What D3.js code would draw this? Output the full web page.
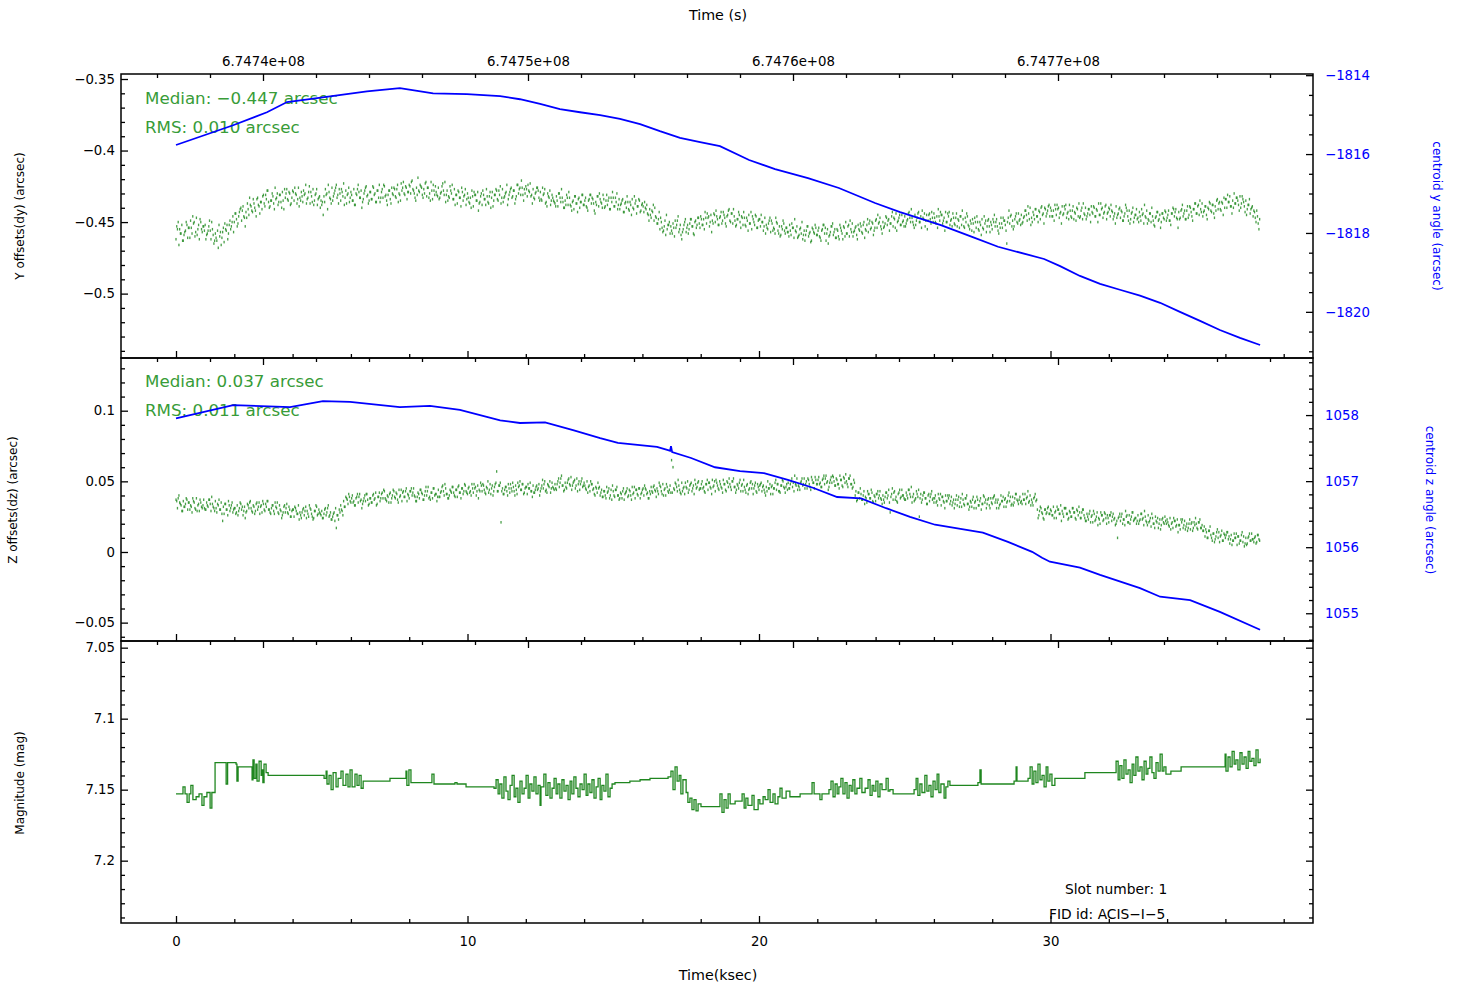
<!DOCTYPE html>
<html><head><meta charset="utf-8">
<script src="https://cdn.jsdelivr.net/npm/d3@7"></script>
<style>body{margin:0;background:#fff}svg{display:block}text{font-family:"DejaVu Sans",sans-serif}</style>
</head><body><svg id="c" width="1465" height="987"></svg>
<script>
// ---------------- DATA ----------------
const sampleStep = 0.05;   // ksec between centroid samples
const sampleOffsetB = 0.025; // second interleaved sample set offset (ksec)
// Y offsets (milli-arcsec), set A
const dyMas = [
-462,-455,-466,-458,-452,-463,-457,-450,-461,-454,-449,-458,-451,-460,-447,-455,-462,-450,-457,-453,
-452,-459,-456,-449,-462,-455,-465,-458,-463,-468,-460,-466,-457,-464,-455,-452,-458,-449,-453,-446,
-450,-444,-453,-446,-441,-449,-439,-447,-443,-437,-445,-438,-442,-434,-440,-446,-433,-439,-436,-441,
-431,-439,-434,-428,-440,-435,-430,-437,-426,-433,-438,-431,-436,-429,-441,-433,-427,-435,-430,-437,
-428,-435,-430,-437,-426,-433,-429,-436,-431,-424,-434,-429,-437,-432,-427,-435,-430,-438,-433,-440,
-438,-445,-436,-431,-441,-429,-434,-426,-432,-428,-424,-431,-427,-435,-429,-423,-433,-437,-430,-436,
-429,-435,-427,-438,-431,-424,-433,-428,-436,-430,-426,-432,-437,-429,-434,-425,-431,-436,-428,-433,
-436,-429,-433,-425,-431,-438,-428,-434,-426,-431,-427,-433,-424,-430,-435,-428,-422,-431,-426,-429,
-424,-430,-421,-428,-433,-426,-419,-429,-425,-431,-427,-423,-432,-426,-430,-422,-434,-428,-425,-431,
-426,-433,-429,-423,-431,-436,-428,-432,-425,-430,-434,-427,-431,-437,-429,-433,-426,-435,-431,-438,
-430,-436,-433,-428,-439,-431,-435,-429,-437,-432,-438,-431,-434,-427,-436,-432,-440,-429,-435,-431,
-428,-435,-431,-437,-427,-433,-430,-424,-434,-429,-426,-432,-428,-434,-424,-430,-426,-421,-431,-427,
-425,-432,-428,-423,-431,-427,-434,-429,-426,-433,-429,-435,-431,-427,-436,-430,-433,-438,-431,-435,
-437,-432,-439,-430,-436,-433,-440,-435,-431,-438,-433,-439,-436,-441,-432,-437,-434,-440,-436,-431,
-438,-433,-440,-435,-431,-437,-434,-442,-436,-432,-439,-434,-437,-431,-440,-435,-438,-433,-441,-436,
-433,-439,-436,-441,-434,-438,-435,-443,-437,-440,-436,-442,-438,-434,-441,-437,-444,-439,-435,-442,
-437,-443,-440,-438,-445,-441,-447,-443,-449,-446,-451,-448,-455,-450,-457,-453,-459,-455,-452,-458,
-456,-451,-460,-454,-449,-457,-452,-462,-455,-450,-457,-452,-455,-448,-453,-458,-450,-454,-447,-451,
-446,-452,-448,-443,-451,-447,-453,-445,-449,-444,-450,-446,-452,-447,-443,-449,-445,-451,-446,-442,
-449,-444,-451,-446,-453,-448,-443,-450,-446,-452,-447,-453,-449,-445,-451,-455,-448,-452,-446,-454,
-448,-453,-450,-456,-447,-452,-455,-449,-457,-451,-454,-458,-450,-456,-453,-459,-455,-451,-458,-454,
-457,-452,-459,-454,-461,-456,-453,-460,-455,-458,-462,-456,-459,-453,-460,-457,-463,-455,-458,-454,
-459,-454,-461,-456,-452,-458,-463,-455,-460,-457,-453,-459,-455,-461,-456,-462,-454,-458,-453,-460,
-458,-453,-460,-455,-451,-457,-454,-459,-452,-456,-453,-458,-450,-455,-452,-457,-449,-454,-451,-456,
-449,-454,-451,-447,-455,-450,-453,-446,-452,-448,-451,-446,-453,-448,-444,-450,-447,-452,-445,-449,
-446,-451,-448,-443,-450,-447,-452,-445,-449,-444,-450,-446,-442,-448,-453,-445,-449,-444,-451,-447,
-444,-450,-446,-441,-449,-445,-451,-447,-443,-450,-446,-452,-448,-444,-451,-447,-453,-449,-446,-452,
-448,-454,-450,-446,-453,-449,-456,-451,-447,-454,-450,-456,-452,-448,-455,-451,-457,-449,-453,-450,
-455,-450,-453,-448,-456,-451,-447,-454,-449,-452,-465,-447,-451,-445,-449,-453,-446,-450,-444,-448,
-445,-450,-446,-442,-449,-444,-440,-447,-443,-448,-441,-446,-442,-448,-439,-444,-440,-446,-442,-438,
-440,-446,-442,-438,-445,-441,-447,-443,-439,-444,-441,-447,-443,-438,-446,-442,-448,-444,-440,-446,
-447,-442,-448,-444,-440,-446,-441,-445,-439,-444,-440,-446,-442,-437,-445,-441,-447,-443,-438,-444,
-440,-446,-442,-448,-444,-439,-445,-441,-447,-443,-449,-444,-440,-446,-442,-448,-443,-450,-445,-441,
-447,-443,-449,-445,-451,-446,-442,-448,-444,-450,-446,-452,-447,-443,-449,-445,-450,-444,-448,-443,
-447,-442,-449,-444,-440,-446,-441,-448,-443,-447,-441,-446,-442,-448,-439,-445,-440,-446,-441,-437,
-444,-439,-445,-441,-437,-443,-439,-445,-440,-436,-442,-438,-444,-439,-435,-441,-436,-442,-437,-433,
-434,-440,-436,-432,-439,-435,-430,-437,-433,-438,-432,-437,-434,-439,-435,-441,-438,-444,-440,-446,
-443,-450,-446,-455];
// Y offsets (milli-arcsec), set B (interleaved)
const dyMasB = [
-453,-450,-455,-458,-463,-459,-456,-452,-454,-461,-454,-446,-450,-457,-459,-452,-448,-455,-453,-456,
-462,-458,-453,-456,-450,-459,-463,-461,-456,-452,-457,-461,-454,-451,-456,-462,-452,-455,-450,-457,
-444,-448,-451,-443,-440,-442,-446,-453,-447,-441,-433,-439,-443,-437,-442,-434,-438,-444,-436,-432,
-437,-431,-428,-436,-439,-435,-432,-441,-434,-430,-436,-431,-440,-435,-427,-430,-434,-429,-438,-433,
-429,-426,-431,-434,-439,-435,-432,-428,-430,-437,-433,-425,-429,-436,-438,-431,-427,-434,-432,-435,
-436,-432,-427,-430,-424,-433,-437,-435,-430,-426,-433,-437,-430,-427,-432,-438,-428,-431,-426,-433,
-431,-435,-438,-430,-427,-429,-433,-440,-434,-428,-425,-431,-435,-429,-434,-426,-430,-436,-428,-424,
-433,-427,-424,-432,-435,-431,-428,-437,-430,-426,-432,-427,-436,-431,-423,-426,-430,-425,-434,-429,
-425,-422,-427,-430,-435,-431,-428,-424,-426,-433,-430,-422,-426,-433,-435,-428,-424,-431,-429,-432,
-434,-430,-425,-428,-422,-431,-435,-433,-428,-424,-434,-438,-431,-428,-433,-439,-429,-432,-427,-434,
-433,-437,-440,-432,-429,-431,-435,-442,-436,-430,-428,-434,-438,-432,-437,-429,-433,-439,-431,-427,
-434,-428,-425,-433,-436,-432,-429,-438,-431,-427,-433,-428,-437,-432,-424,-427,-431,-426,-435,-430,
-427,-424,-429,-432,-437,-433,-430,-426,-428,-435,-434,-426,-430,-437,-439,-432,-428,-435,-433,-436,
-439,-435,-430,-433,-427,-436,-440,-438,-433,-429,-438,-442,-435,-432,-437,-443,-433,-436,-431,-438,
-435,-439,-442,-434,-431,-433,-437,-444,-438,-432,-430,-436,-440,-434,-439,-431,-435,-441,-433,-429,
-439,-433,-430,-438,-441,-437,-434,-443,-436,-432,-441,-436,-445,-440,-432,-435,-439,-434,-443,-438,
-439,-436,-441,-444,-449,-445,-442,-438,-440,-447,-451,-443,-447,-454,-456,-449,-445,-452,-450,-453,
-458,-454,-449,-452,-446,-455,-459,-457,-452,-448,-454,-458,-451,-448,-453,-459,-449,-452,-447,-454,
-448,-452,-455,-447,-444,-446,-450,-457,-451,-445,-442,-448,-452,-446,-451,-443,-447,-453,-445,-441,
-450,-444,-441,-449,-452,-448,-445,-454,-447,-443,-452,-447,-456,-451,-443,-446,-450,-445,-454,-449,
-448,-445,-450,-453,-458,-454,-451,-447,-449,-456,-455,-447,-451,-458,-460,-453,-449,-456,-454,-457,
-460,-456,-451,-454,-448,-457,-461,-459,-454,-450,-459,-463,-456,-453,-458,-464,-454,-457,-452,-459,
-456,-460,-463,-455,-452,-454,-458,-465,-459,-453,-451,-457,-461,-455,-460,-452,-456,-462,-454,-450,
-458,-452,-449,-457,-460,-456,-453,-462,-455,-451,-457,-452,-461,-456,-448,-451,-455,-450,-459,-454,
-448,-445,-450,-453,-458,-454,-451,-447,-449,-456,-451,-443,-447,-454,-456,-449,-445,-452,-450,-453,
-453,-449,-444,-447,-441,-450,-454,-452,-447,-443,-450,-454,-447,-444,-449,-455,-445,-448,-443,-450,
-447,-451,-454,-446,-443,-445,-449,-456,-450,-444,-443,-449,-453,-447,-452,-444,-448,-454,-446,-442,
-453,-447,-444,-452,-455,-451,-448,-457,-450,-446,-455,-450,-459,-454,-446,-449,-453,-448,-457,-452,
-448,-445,-450,-453,-458,-454,-451,-447,-449,-456,-450,-442,-446,-453,-455,-448,-444,-451,-449,-452,
-451,-447,-442,-445,-439,-448,-452,-450,-445,-441,-446,-450,-443,-440,-445,-451,-441,-444,-439,-446,
-442,-446,-449,-441,-438,-440,-444,-451,-445,-439,-438,-444,-448,-442,-447,-439,-443,-449,-441,-437,
-446,-440,-437,-445,-448,-444,-441,-450,-443,-439,-446,-441,-450,-445,-437,-440,-444,-439,-448,-443,
-441,-438,-443,-446,-451,-447,-444,-440,-442,-449,-446,-438,-442,-449,-451,-444,-440,-447,-445,-448,
-450,-446,-441,-444,-438,-447,-451,-449,-444,-440,-449,-453,-446,-443,-448,-454,-444,-447,-442,-449,
-445,-449,-452,-444,-441,-443,-447,-454,-448,-442,-438,-444,-448,-442,-447,-439,-443,-449,-441,-437,
-444,-438,-435,-443,-446,-442,-439,-448,-441,-437,-443,-438,-447,-442,-434,-437,-441,-436,-445,-440,
-434,-431,-436,-439,-444,-440,-437,-433,-435,-442,-440,-432,-436,-443,-445,-438,-434,-441,-439,-442,
-447,-442,-451,-448];
// Z offsets (milli-arcsec), set A
const dzMas = [
37,31,40,34,29,36,32,38,30,35,33,28,36,31,38,33,29,35,31,37,
30,35,32,37,29,34,31,36,28,33,30,35,22,27,34,30,36,29,33,28,
31,27,33,29,35,30,26,32,28,34,31,36,29,33,27,34,30,35,32,28,
34,29,32,36,30,27,33,29,35,31,28,33,29,26,32,28,34,27,30,25,
30,25,31,27,33,28,24,30,26,32,29,25,31,27,23,29,33,26,30,27,
29,24,30,26,31,25,28,23,27,22,17,26,30,33,29,36,32,38,34,39,
35,40,36,33,39,35,41,37,34,38,36,41,33,38,35,40,37,42,34,39,
36,41,38,43,37,40,35,42,38,44,39,42,37,44,40,36,43,39,45,41,
38,43,40,45,39,36,42,38,44,41,37,43,40,46,39,42,38,45,41,36,
44,39,43,47,40,45,41,38,44,42,46,40,44,39,47,42,45,41,48,43,
41,46,43,48,42,45,40,47,44,49,43,47,42,46,50,44,41,47,43,48,
57,43,47,21,45,41,46,43,48,42,45,49,43,47,41,46,50,44,48,42,
46,41,45,49,43,47,42,46,44,48,43,47,45,50,44,48,46,42,49,45,
48,44,50,46,52,47,43,49,45,51,48,53,47,50,45,52,48,44,50,46,
49,45,50,46,43,48,44,41,46,42,45,40,44,39,43,38,42,45,40,37,
43,39,44,40,37,42,38,45,41,43,39,44,40,46,42,38,44,40,45,41,
44,40,45,41,38,43,46,42,47,43,45,41,47,43,48,44,40,46,42,47,
65,60,44,48,43,47,42,49,45,41,46,50,44,48,43,47,51,45,49,44,
45,50,46,42,48,44,49,45,51,47,43,49,45,50,46,42,48,44,50,46,
48,44,50,46,42,48,45,51,47,43,46,42,48,44,49,45,41,47,43,48,
44,48,43,47,42,46,50,45,41,47,45,49,44,48,43,47,51,46,42,48,
49,45,50,46,43,48,52,47,44,50,47,52,48,45,51,46,53,49,45,51,
48,53,49,46,52,48,54,50,46,51,49,53,47,52,48,45,51,47,53,49,
50,46,52,48,45,51,40,36,42,38,41,37,43,39,35,41,38,44,36,40,
36,41,38,43,37,40,35,42,38,44,28,41,37,43,39,35,42,38,44,40,
37,42,38,44,39,35,41,37,43,39,25,41,37,42,38,34,40,36,41,37,
35,40,36,41,37,33,39,35,40,36,38,34,39,35,31,37,33,39,35,32,
37,33,38,34,30,36,32,39,35,31,37,33,38,34,40,35,31,37,33,38,
34,39,35,31,37,33,40,36,32,38,35,40,36,33,39,35,41,37,34,39,
36,41,37,34,39,35,40,37,33,39,36,30,26,32,28,24,30,27,31,27,
30,26,32,28,24,30,27,33,29,25,31,27,23,29,25,31,28,24,30,26,
28,24,30,26,22,27,23,29,25,21,27,23,28,24,20,26,22,28,24,26,
21,26,22,27,24,20,10,25,22,27,23,19,25,21,26,23,28,22,24,20,
26,22,27,23,19,25,21,26,22,18,24,20,25,21,17,23,19,24,20,22,
23,19,24,20,17,22,18,23,19,16,21,17,22,18,15,20,16,21,17,19,
20,16,21,17,19,15,11,14,10,15,12,8,13,9,14,10,7,12,8,13,
10,14,9,6,12,8,13,10,5,11,8,12,7,4,10,6,11,8,13,9,
10,6,12,9];
// Z offsets (milli-arcsec), set B (interleaved)
const dzMasB = [
36,38,35,33,29,32,34,37,35,30,32,38,35,30,29,34,37,32,33,31,
30,33,37,34,39,32,29,31,34,37,30,27,32,34,30,26,33,31,35,30,
31,28,26,31,34,32,29,24,29,33,35,31,28,32,29,35,32,27,33,36,
30,34,36,30,28,31,33,27,32,35,27,30,24,28,33,31,28,32,25,29,
30,32,29,27,23,26,28,31,29,24,27,33,30,25,24,29,32,27,28,26,
24,27,31,28,33,26,23,25,28,31,26,23,28,30,26,32,39,37,41,36,
38,35,33,38,41,39,36,31,36,40,41,37,34,38,35,41,38,33,39,42,
38,42,44,38,36,39,41,35,40,43,38,41,35,39,44,42,39,43,36,40,
43,45,42,40,36,39,41,44,42,37,40,46,43,38,37,42,45,40,41,39,
39,42,46,43,48,41,38,40,43,46,42,39,44,46,42,38,45,43,47,42,
45,42,40,45,48,46,43,38,43,47,48,44,41,45,42,48,45,40,46,49,
43,47,49,43,41,44,46,40,45,48,43,46,40,44,49,47,44,48,41,45,
46,48,45,43,39,42,44,47,45,40,45,51,48,43,42,47,50,45,46,44,
45,48,52,49,54,47,44,46,49,52,47,44,49,51,47,43,50,48,52,47,
47,44,42,47,50,48,45,40,45,49,46,42,39,43,40,46,43,38,44,47,
40,44,46,40,38,41,43,37,42,45,40,43,37,41,46,44,41,45,38,42,
45,47,44,42,38,41,43,46,44,39,43,49,46,41,40,45,48,43,44,42,
42,45,49,46,51,44,41,43,46,49,45,42,47,49,45,41,48,46,50,45,
48,45,43,48,51,49,46,41,46,50,51,47,44,48,45,51,48,43,49,52,
46,50,52,46,44,47,49,43,48,51,44,47,41,45,50,48,45,49,42,46,
47,49,46,44,40,43,45,48,46,41,45,51,48,43,42,47,50,45,46,44,
45,48,52,49,54,47,44,46,49,52,48,45,50,52,48,44,51,49,53,48,
51,48,46,51,54,52,49,44,49,53,54,50,47,51,48,54,51,46,52,55,
48,52,54,48,46,49,43,37,42,45,37,40,34,38,43,41,38,42,35,39,
41,43,40,38,34,37,39,42,40,35,39,45,42,37,36,41,44,39,40,38,
37,40,44,41,46,39,36,38,41,44,38,35,40,42,38,34,41,39,43,38,
38,35,33,38,41,39,36,31,36,40,40,36,33,37,34,40,37,32,38,41,
34,38,40,34,32,35,37,31,36,39,33,36,30,34,39,37,34,38,31,35,
38,40,37,35,31,34,36,39,37,32,36,42,39,34,33,38,41,36,37,35,
34,37,41,38,43,36,33,35,38,41,37,24,29,31,27,23,30,28,32,27,
29,26,24,29,32,30,27,22,27,31,31,27,24,28,25,31,28,23,29,32,
24,28,30,24,22,25,27,21,26,29,22,25,19,23,28,26,23,27,20,24,
26,28,25,23,19,22,24,27,25,20,23,29,26,21,20,25,28,23,24,22,
20,23,27,24,29,22,19,21,24,27,20,17,22,24,20,16,23,21,25,20,
21,18,16,21,24,22,19,14,19,23,23,19,16,20,17,23,20,15,21,24,
17,21,23,17,15,18,16,10,15,18,10,13,7,11,16,14,11,15,8,12,
12,14,11,9,5,8,10,13,11,6,8,14,11,6,5,10,13,8,9,7,
11,7,12,8];
// centroid y angle (arcsec)
const yAngT = [0,1.96,3.12,3.81,4.84,6.55,7.68,8.82,9.98,11.12,11.80,12.49,13.17,13.86,14.55,15.23,15.92,16.60,17.29,17.98,18.66,19.66,20.55,21.68,22.74,23.98,24.84,26.24,27.31,28.20,29.78,30.33,31.01,31.70,32.38,33.07,33.76,34.44,35.13,35.81,36.50,37.19];
const yAngV = [-1815.77,-1815.27,-1814.94,-1814.68,-1814.58,-1814.41,-1814.33,-1814.46,-1814.48,-1814.53,-1814.61,-1814.73,-1814.86,-1814.94,-1815.01,-1815.11,-1815.24,-1815.42,-1815.59,-1815.70,-1815.80,-1816.15,-1816.38,-1816.61,-1816.86,-1817.24,-1817.47,-1817.80,-1818.10,-1818.35,-1818.66,-1818.84,-1819.09,-1819.29,-1819.44,-1819.59,-1819.77,-1820.00,-1820.23,-1820.46,-1820.66,-1820.84];
// centroid z angle (arcsec)
const zAngT = [0,1.96,3.91,5.04,5.97,7.68,8.71,9.74,11.12,11.80,12.66,13.65,14.55,15.16,16.50,16.88,16.95,16.98,17.02,17.67,18.49,19.35,20.17,20.99,21.85,22.68,23.50,24.36,25.18,26.04,26.86,27.68,28.54,29.37,29.71,29.98,31.01,31.70,33.07,33.76,34.79,35.81,37.19];
const zAngV = [1057.95,1058.15,1058.12,1058.21,1058.20,1058.12,1058.14,1058.08,1057.92,1057.88,1057.89,1057.77,1057.65,1057.58,1057.52,1057.47,1057.46,1057.53,1057.44,1057.35,1057.21,1057.15,1057.12,1057.02,1056.90,1056.76,1056.74,1056.59,1056.46,1056.34,1056.28,1056.22,1056.08,1055.93,1055.84,1055.78,1055.69,1055.58,1055.38,1055.25,1055.20,1055.02,1054.75];
// magnitude steps [ksec, mag]
const magSteps = [
[0.00,7.153],[0.24,7.148],[0.31,7.153],[0.38,7.159],[0.45,7.153],[0.51,7.147],[0.58,7.157],[0.69,7.155],[0.79,7.153],[0.89,7.161],
[0.96,7.155],[1.06,7.152],[1.17,7.163],[1.23,7.152],[1.34,7.131],[1.72,7.146],[1.77,7.131],[2.06,7.132],[2.09,7.144],[2.13,7.134],
[2.61,7.143],[2.64,7.129],[2.68,7.142],[2.74,7.132],[2.78,7.144],[2.85,7.130],[2.92,7.140],[2.95,7.136],[2.98,7.145],[3.02,7.132],
[3.09,7.138],[3.16,7.140],[5.08,7.142],[5.15,7.137],[5.18,7.146],[5.25,7.140],[5.32,7.150],[5.39,7.138],[5.49,7.148],[5.56,7.142],
[5.66,7.137],[5.73,7.147],[5.83,7.139],[5.90,7.148],[5.97,7.136],[6.04,7.148],[6.14,7.139],[6.21,7.147],[6.28,7.140],[6.35,7.149],
[6.42,7.144],[7.34,7.142],[7.89,7.137],[7.92,7.147],[7.99,7.136],[8.06,7.145],[8.78,7.139],[8.85,7.146],[9.57,7.145],[9.64,7.146],
[9.95,7.148],[10.91,7.149],[10.98,7.143],[11.05,7.153],[11.11,7.146],[11.18,7.156],[11.25,7.141],[11.32,7.151],[11.39,7.157],[11.46,7.147],
[11.53,7.140],[11.60,7.155],[11.66,7.149],[11.73,7.159],[11.80,7.144],[11.87,7.153],[11.94,7.149],[12.01,7.140],[12.08,7.156],[12.14,7.146],
[12.21,7.151],[12.28,7.141],[12.35,7.153],[12.42,7.147],[12.49,7.161],[12.52,7.148],[12.62,7.139],[12.69,7.154],[12.76,7.145],[12.83,7.156],
[12.90,7.149],[12.97,7.142],[13.04,7.153],[13.10,7.146],[13.17,7.156],[13.24,7.143],[13.31,7.151],[13.38,7.147],[13.45,7.157],[13.52,7.144],
[13.58,7.153],[13.65,7.141],[13.72,7.149],[13.79,7.155],[13.86,7.146],[13.93,7.150],[14.00,7.139],[14.07,7.154],[14.13,7.146],[14.20,7.152],
[14.27,7.143],[14.34,7.156],[14.41,7.148],[14.48,7.142],[14.55,7.157],[14.61,7.147],[14.68,7.151],[14.75,7.139],[14.82,7.155],[14.89,7.149],
[14.96,7.146],[15.06,7.145],[15.57,7.144],[15.92,7.143],[16.26,7.142],[16.88,7.141],[16.98,7.137],[17.05,7.150],[17.12,7.134],[17.19,7.144],
[17.26,7.140],[17.32,7.153],[17.39,7.143],[17.50,7.152],[17.56,7.159],[17.63,7.156],[17.70,7.164],[17.77,7.157],[17.84,7.165],[17.91,7.160],
[18.01,7.162],[18.66,7.153],[18.73,7.166],[18.80,7.157],[18.87,7.163],[18.94,7.153],[19.01,7.160],[19.18,7.158],[19.42,7.153],[19.49,7.163],
[19.55,7.156],[19.62,7.161],[19.76,7.154],[19.83,7.164],[19.97,7.157],[20.03,7.160],[20.14,7.155],[20.21,7.157],[20.31,7.150],[20.38,7.159],
[20.48,7.153],[20.55,7.160],[20.65,7.155],[20.72,7.149],[20.79,7.156],[20.93,7.151],[21.06,7.155],[21.41,7.153],[21.82,7.145],[21.89,7.153],
[22.09,7.157],[22.16,7.153],[22.40,7.150],[22.47,7.144],[22.54,7.155],[22.61,7.146],[22.68,7.153],[22.74,7.148],[22.81,7.142],[22.88,7.153],
[22.95,7.145],[23.02,7.156],[23.09,7.147],[23.16,7.151],[23.22,7.143],[23.29,7.153],[23.36,7.149],[23.46,7.142],[23.53,7.152],[23.64,7.149],
[23.74,7.143],[23.81,7.154],[23.88,7.147],[23.94,7.151],[24.01,7.144],[24.08,7.155],[24.15,7.146],[24.22,7.150],[24.36,7.142],[24.43,7.151],
[24.49,7.150],[24.60,7.153],[25.32,7.150],[25.39,7.142],[25.45,7.154],[25.52,7.146],[25.59,7.152],[25.69,7.140],[25.76,7.151],[25.83,7.147],
[25.90,7.155],[25.97,7.144],[26.04,7.150],[26.11,7.139],[26.17,7.152],[26.24,7.146],[26.35,7.156],[26.41,7.148],[26.48,7.144],[26.55,7.147],
[27.51,7.145],[27.58,7.136],[27.62,7.146],[28.75,7.144],[28.82,7.134],[28.85,7.144],[29.23,7.142],[29.30,7.134],[29.37,7.146],[29.43,7.137],
[29.50,7.145],[29.57,7.132],[29.64,7.143],[29.71,7.140],[29.78,7.148],[29.85,7.134],[29.91,7.144],[29.98,7.139],[30.05,7.147],[30.15,7.142],
[31.18,7.138],[32.25,7.130],[32.32,7.143],[32.38,7.133],[32.45,7.142],[32.52,7.129],[32.59,7.139],[32.66,7.136],[32.73,7.145],[32.80,7.132],
[32.86,7.140],[32.93,7.127],[33.00,7.137],[33.07,7.134],[33.14,7.143],[33.21,7.130],[33.28,7.139],[33.34,7.135],[33.41,7.127],[33.48,7.138],
[33.55,7.142],[33.62,7.131],[33.69,7.137],[33.76,7.125],[33.83,7.137],[33.89,7.134],[33.96,7.139],[34.13,7.137],[34.48,7.134],[35.99,7.125],
[36.02,7.137],[36.09,7.127],[36.16,7.134],[36.23,7.123],[36.30,7.132],[36.36,7.129],[36.43,7.136],[36.50,7.124],[36.57,7.132],[36.64,7.127],
[36.71,7.135],[36.78,7.123],[36.84,7.130],[36.91,7.128],[36.98,7.133],[37.05,7.122],[37.12,7.131],[37.19,7.128]];

// ticks
const secTicks = [674740000, 674750000, 674760000, 674770000];
const secTickLabels = ["6.7474e+08","6.7475e+08","6.7476e+08","6.7477e+08"];
const ksecTicks = [0, 10, 20, 30];
const ksecTickLabels = ["0","10","20","30"];
const dyTicks = [-0.5, -0.45, -0.4, -0.35];
const dyTickLabels = ["\u22120.5","\u22120.45","\u22120.4","\u22120.35"];
const yaTicks = [-1820, -1818, -1816, -1814];
const yaTickLabels = ["\u22121820","\u22121818","\u22121816","\u22121814"];
const dzTicks = [-0.05, 0, 0.05, 0.1];
const dzTickLabels = ["\u22120.05","0","0.05","0.1"];
const zaTicks = [1055, 1056, 1057, 1058];
const zaTickLabels = ["1055","1056","1057","1058"];
const magTicks = [7.05, 7.1, 7.15, 7.2];
const magTickLabels = ["7.05","7.1","7.15","7.2"];
const statsY = ["Median: \u22120.447 arcsec", "RMS: 0.010 arcsec"];
const statsZ = ["Median: 0.037 arcsec", "RMS: 0.011 arcsec"];
const infoText = ["Slot number: 1", "FID id: ACIS\u2212I\u22125"];

// ---------------- LAYOUT ----------------
const svg = d3.select("#c");
const L = 121, R = 1313;
const T1 = 74, B1 = 358, T2 = 358, B2 = 641, T3 = 641, B3 = 923;
const GREEN = "#228b22", TXTG = "#389c38", BLUE = "#0000ff";
const FONT = "DejaVu Sans";
const TICKFS = 13.3;

const x = d3.scaleLinear().domain([-1.887, 39.005]).range([L, R]);
const xs = d3.scaleLinear().domain([674734641.5, 674779622.6]).range([L, R]);
const yDy = d3.scaleLinear().domain([-0.545, -0.3465]).range([B1, T1]);
const yYa = d3.scaleLinear().domain([-1821.17, -1813.97]).range([B1, T1]);
const yDz = d3.scaleLinear().domain([-0.063, 0.1373]).range([B2, T2]);
const yZa = d3.scaleLinear().domain([1054.58, 1058.864]).range([B2, T2]);
const yMag = d3.scaleLinear().domain([7.0453, 7.2439]).range([T3, B3]);

function drawAxis(orient, scale, pos, major, minorStep, labels, color, pad) {
  const mk = {left: d3.axisLeft, right: d3.axisRight, top: d3.axisTop, bottom: d3.axisBottom}[orient];
  const tr = (orient === "left" || orient === "right") ? `translate(${pos},0)` : `translate(0,${pos})`;
  const d = scale.domain(), lo = Math.min(...d), hi = Math.max(...d);
  const minors = [];
  for (let k = Math.ceil(lo / minorStep - 1e-9); k * minorStep <= hi + 1e-9; k++) {
    const v = Math.round(k * minorStep * 1e6) / 1e6;
    if (!major.some(m => Math.abs(m - v) < minorStep * 1e-3)) minors.push(v);
  }
  const gm = svg.append("g").attr("transform", tr)
    .call(mk(scale).tickValues(minors).tickSize(-4).tickSizeOuter(0).tickFormat(""));
  const gM = svg.append("g").attr("transform", tr)
    .call(mk(scale).tickValues(major).tickSize(-7).tickSizeOuter(0).tickPadding(pad || 6)
      .tickFormat((v, i) => labels ? labels[i] : ""));
  [gm, gM].forEach(g => {
    g.select(".domain").remove();
    g.selectAll("line").attr("stroke", "#000").attr("stroke-width", 1.3);
  });
  gM.selectAll("text").attr("font-family", FONT).attr("font-size", TICKFS).attr("fill", color || "#000");
}

// stats text (drawn under lines)
function stats(lines, y0) {
  lines.forEach((s, i) => svg.append("text").attr("x", 145).attr("y", y0 + i * 29)
    .attr("font-family", FONT).attr("font-size", 16.7).attr("fill", TXTG).text(s));
}
stats(statsY, 104);
stats(statsZ, 387);

// scatter helper
function scatter(values, offset, yScale) {
  svg.append("g").attr("fill", GREEN).selectAll("rect").data(values).join("rect")
    .attr("x", (d, i) => x(i * sampleStep + offset) - 0.65).attr("y", d => yScale(d / 1000) - 1.3)
    .attr("width", 1.3).attr("height", 2.6).attr("opacity", 0.82);
}
scatter(dyMas, 0, yDy);
scatter(dyMasB, sampleOffsetB, yDy);
scatter(dzMas, 0, yDz);
scatter(dzMasB, sampleOffsetB, yDz);

// centroid lines
svg.append("path").datum(d3.zip(yAngT, yAngV))
  .attr("d", d3.line().x(d => x(d[0])).y(d => yYa(d[1])))
  .attr("fill", "none").attr("stroke", BLUE).attr("stroke-width", 1.8);
svg.append("path").datum(d3.zip(zAngT, zAngV))
  .attr("d", d3.line().x(d => x(d[0])).y(d => yZa(d[1])))
  .attr("fill", "none").attr("stroke", BLUE).attr("stroke-width", 1.8);

// magnitude
svg.append("path").datum(magSteps)
  .attr("d", d3.line().curve(d3.curveStepAfter).x(d => x(d[0])).y(d => yMag(d[1])))
  .attr("fill", "none").attr("stroke", "#1f861f").attr("stroke-width", 1.3);

// frames
[[T1, B1], [T2, B2], [T3, B3]].forEach(([t, b]) =>
  svg.append("rect").attr("x", L).attr("y", t).attr("width", R - L).attr("height", b - t)
    .attr("fill", "none").attr("stroke", "#000").attr("stroke-width", 1.5));

// axes
drawAxis("top", xs, T1, secTicks, 2000, secTickLabels, "#000", 8);
drawAxis("bottom", x, B1, ksecTicks, 2, null);
drawAxis("left", yDy, L, dyTicks, 0.01, dyTickLabels, "#000", 6);
drawAxis("right", yYa, R, yaTicks, 0.5, yaTickLabels, BLUE, 12);

drawAxis("top", xs, T2, secTicks, 2000, null);
drawAxis("bottom", x, B2, ksecTicks, 2, null);
drawAxis("left", yDz, L, dzTicks, 0.01, dzTickLabels, "#000", 6);
drawAxis("right", yZa, R, zaTicks, 0.2, zaTickLabels, BLUE, 12);

drawAxis("top", xs, T3, secTicks, 2000, null);
drawAxis("bottom", x, B3, ksecTicks, 2, ksecTickLabels, "#000", 14);
drawAxis("left", yMag, L, magTicks, 0.01, magTickLabels, "#000", 6);
drawAxis("right", yMag, R, magTicks, 0.01, null);

// titles
function txt(xp, yp, s, opt = {}) {
  const t = svg.append("text").attr("font-family", FONT).attr("font-size", opt.size || 12)
    .attr("fill", opt.color || "#000").attr("text-anchor", opt.anchor || "middle").text(s);
  if (opt.rot) t.attr("transform", `translate(${xp},${yp}) rotate(${opt.rot})`).attr("dy", "0.35em");
  else t.attr("x", xp).attr("y", yp);
  return t;
}
txt(718, 20, "Time (s)", {size: 14.3});
txt(718, 980, "Time(ksec)", {size: 14.3});
txt(20, 216, "Y offsets(dy) (arcsec)", {rot: -90});
txt(13, 500, "Z offsets(dz) (arcsec)", {rot: -90});
txt(20, 783, "Magnitude (mag)", {rot: -90});
txt(1437, 216, "centroid y angle (arcsec)", {rot: 90, color: BLUE});
txt(1430, 500, "centroid z angle (arcsec)", {rot: 90, color: BLUE});
txt(1065, 894, infoText[0], {size: 13.8, anchor: "start"});
txt(1049, 919, infoText[1], {size: 13.8, anchor: "start"});
</script></body></html>
